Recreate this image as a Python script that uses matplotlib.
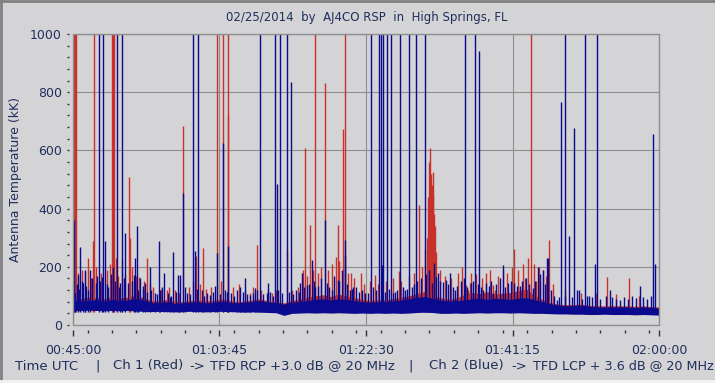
import numpy as np
import matplotlib
matplotlib.use("Agg")
import matplotlib.pyplot as plt
from matplotlib.ticker import FixedLocator, MultipleLocator, FuncFormatter
from matplotlib.patches import Rectangle
from matplotlib.lines import Line2D

# ---- data (time in minutes after 00:00 UTC, temperature in kK) ----
band_min = np.arange(45, 121)

blue_lo = [50, 50, 51, 50, 49, 50, 49, 50, 48, 47,
           46, 47, 46, 45, 46, 47, 46, 45, 46, 47,
           46, 45, 44, 45, 44, 43, 42, 33, 40, 41,
           42, 41, 42, 41, 42, 41, 40, 41, 40, 41,
           40, 41, 40, 41, 43, 44, 43, 40, 40, 41,
           40, 41, 42, 41, 42, 42, 41, 42, 41, 40,
           40, 39, 38, 38, 37, 37, 36, 36, 37, 36,
           36, 36, 35, 36, 35, 34]
blue_hi = [86, 82, 84, 88, 82, 88, 84, 86, 92, 86,
           78, 76, 80, 74, 76, 78, 80, 76, 78, 82,
           78, 76, 78, 80, 84, 78, 76, 72, 78, 80,
           84, 88, 90, 86, 90, 88, 84, 80, 78, 80,
           80, 82, 86, 90, 95, 98, 92, 86, 82, 84,
           86, 90, 92, 88, 92, 90, 88, 92, 94, 88,
           80, 74, 68, 66, 66, 68, 64, 62, 62, 62,
           62, 62, 60, 62, 60, 58]
red_hi = [94, 90, 96, 94, 90, 98, 92, 96, 102, 94,
          84, 82, 88, 80, 80, 84, 86, 82, 84, 90,
          84, 80, 82, 86, 90, 82, 80, 76, 84, 88,
          96, 100, 104, 98, 106, 100, 94, 88, 84, 86,
          86, 90, 96, 100, 108, 115, 104, 94, 88, 92,
          104, 112, 108, 115, 106, 110, 112, 118, 124, 104,
          88, 78, 72, 70, 70, 72, 68, 66, 66, 66,
          66, 66, 64, 66, 63, 62]

# large spikes: (minute, peak)
blue_t = [45.15, 45.26, 45.64, 45.94, 46.3, 46.5, 46.96, 47.18, 48.29, 48.67,
          48.88, 49.1, 49.5, 50.16, 50.67, 51.0, 51.31, 51.7, 52.85, 52.94,
          53.15, 53.36, 53.9, 54.2, 54.86, 55.5, 56.05, 56.1, 56.69, 57.4,
          57.84, 58.48, 58.7, 59.12, 59.3, 60.32, 60.6, 61.04, 61.5, 62.5,
          63.2, 63.4, 64.2, 64.7, 64.84, 65.95, 66.4, 67.0, 67.65, 68.3,
          68.89, 69.8, 69.9, 70.9, 71.15, 71.3, 71.53, 72.35, 72.94, 73.6,
          74.1, 74.3, 74.9, 75.6, 76.0, 77.21, 78.1, 78.96, 79.4, 79.8,
          79.85, 80.45, 80.9, 82.4, 83.14, 83.4, 84.13, 84.46, 84.6, 84.63,
          85.15, 85.74, 86.2, 86.89, 87.5, 88.04, 88.35, 88.94, 90.01, 90.9,
          91.2, 91.76, 92.4, 92.8, 93.25, 93.9, 95.21, 95.4, 96.41, 97.0,
          97.5, 98.8, 100.08, 101.4, 102.2, 103.9, 104.5, 105.2, 105.7, 105.8,
          106.9, 107.42, 107.93, 108.5, 109.17, 109.5, 109.7, 110.57, 111.0, 111.8,
          112.11, 113.7, 115.0, 117.1, 117.6, 119.28, 119.5]
blue_v = [361, 109, 172, 269, 143, 190, 120, 190, 1000, 166,
          1000, 290, 132, 200, 1000, 143, 1000, 317, 172, 229,
          340, 120, 133, 143, 200, 109, 290, 120, 178, 97,
          250, 172, 172, 455, 132, 1000, 255, 1000, 120, 103,
          133, 246, 624, 115, 270, 121, 132, 160, 103, 126,
          1000, 110, 143, 1000, 484, 120, 1000, 1000, 834, 120,
          143, 180, 137, 225, 132, 361, 120, 155, 189, 236,
          292, 120, 132, 109, 1000, 132, 1000, 1000, 205, 1000,
          1000, 1000, 114, 1000, 120, 1000, 132, 1000, 1000, 143,
          213, 178, 148, 155, 180, 120, 1000, 132, 1000, 943,
          120, 109, 205, 143, 133, 126, 200, 189, 230, 229,
          86, 767, 1000, 306, 676, 120, 120, 1000, 100, 209,
          1000, 121, 86, 92, 133, 656, 210]

red_t = [45.15, 45.28, 45.4, 46.5, 47.6, 47.73, 50.0, 50.13, 50.27, 51.3,
         52.17, 52.3, 54.5, 57.0, 58.6, 59.12, 60.74, 61.68, 63.47, 64.16,
         64.8, 64.88, 67.6, 68.59, 69.9, 72.35, 74.5, 74.65, 75.37, 76.01,
         77.21, 78.7, 78.92, 79.6, 79.85, 80.6, 81.9, 83.65, 86.77, 89.33,
         90.0, 90.3, 90.48, 90.62, 90.74, 90.85, 90.95, 91.05, 91.12, 91.2,
         91.33, 91.45, 95.3, 95.6, 95.8, 98.7, 99.0, 101.5, 101.9, 102.85,
         103.66, 104.3, 104.8, 105.96, 113.3, 116.1]
red_v = [1000, 1000, 1000, 183, 290, 1000, 1000, 1000, 1000, 228,
         510, 300, 231, 120, 110, 684, 236, 263, 1000, 1000,
         721, 1000, 110, 275, 120, 258, 189, 607, 344, 1000,
         830, 232, 344, 672, 1000, 178, 178, 172, 185, 412,
         260, 300, 440, 560, 607, 520, 480, 450, 527, 380,
         340, 250, 138, 120, 143, 138, 120, 260, 132, 160,
         1000, 150, 150, 292, 166, 160]

# small spikes riding on the noise floor
blue_small_t = [45.5, 45.8, 46.1, 46.7, 47.4, 47.9, 48.1, 48.5, 49.3, 49.8,
                50.4, 50.9, 51.5, 52.0, 52.5, 53.6, 54.0, 54.5, 55.0, 55.8,
                56.4, 57.1, 57.6, 58.2, 59.6, 60.0, 60.9, 61.8, 62.2, 62.9,
                63.8, 64.4, 65.2, 65.6, 66.8, 67.3, 68.0, 68.6, 69.3, 70.2,
                70.6, 71.8, 72.6, 73.2, 73.9, 74.6, 75.2, 75.9, 76.4, 76.7,
                77.5, 77.8, 78.4, 79.1, 80.1, 80.7, 81.2, 81.6, 82.0, 82.8,
                83.8, 84.9, 85.5, 86.0, 86.5, 87.2, 87.8, 88.6, 89.0, 89.6,
                90.2, 90.6, 91.5, 92.0, 93.0, 93.6, 94.2, 94.6, 95.0, 95.9,
                96.2, 96.8, 97.2, 97.8, 98.2, 98.5, 99.2, 99.6, 100.3, 100.7,
                101.0, 101.8, 102.5, 103.0, 103.4, 104.1, 104.8, 105.4, 106.2, 106.6,
                107.2, 108.0, 108.9, 110.2, 110.8, 111.4, 112.5, 113.2, 114.0, 114.5,
                115.5, 116.0, 116.6, 118.0, 118.5, 119.0]
blue_small_v = [140, 125, 150, 135, 160, 145, 170, 150, 140, 175,
                150, 130, 160, 145, 150, 160, 125, 115, 120, 105,
                130, 110, 100, 115, 110, 105, 125, 100, 110, 115,
                105, 120, 110, 100, 115, 105, 110, 120, 105, 115,
                100, 110, 115, 105, 115, 130, 140, 150, 135, 160,
                145, 130, 170, 150, 140, 125, 130, 115, 120, 110,
                120, 115, 125, 110, 120, 130, 125, 140, 150, 160,
                175, 190, 165, 150, 140, 130, 135, 150, 160, 145,
                150, 140, 130, 145, 135, 150, 140, 160, 130, 145,
                150, 135, 150, 160, 140, 150, 175, 140, 120, 100,
                95, 100, 95, 90, 100, 95, 90, 100, 95, 90,
                95, 90, 100, 95, 90, 100]

red_small_t = [45.7, 46.2, 46.9, 47.3, 48.0, 48.6, 49.4, 49.7, 50.5, 50.8,
               51.6, 52.6, 53.0, 53.5, 54.1, 54.8, 55.3, 56.3, 57.3, 58.0,
               59.8, 60.4, 61.2, 62.0, 62.7, 63.9, 65.5, 66.2, 67.0, 68.0,
               69.0, 70.5, 71.0, 73.0, 73.8, 75.0, 75.7, 76.3, 76.8, 77.6,
               78.2, 79.0, 80.2, 81.0, 82.2, 83.0, 84.0, 85.0, 86.0, 87.0,
               88.0, 88.7, 89.7, 92.0, 92.6, 93.4, 94.3, 94.8, 96.0, 96.6,
               97.4, 97.9, 98.4, 99.4, 100.0, 100.6, 101.2, 102.0, 102.6, 103.2,
               104.0, 104.6, 105.2, 105.6, 106.4, 108.0, 110.0, 112.0, 114.5, 117.5]
red_small_v = [180, 190, 230, 160, 200, 180, 190, 210, 230, 170,
               175, 200, 170, 165, 150, 140, 130, 125, 130, 120,
               130, 150, 140, 125, 130, 150, 130, 140, 120, 130,
               120, 110, 120, 120, 130, 170, 190, 180, 200, 190,
               210, 220, 180, 160, 140, 150, 140, 150, 160, 150,
               170, 180, 200, 190, 170, 160, 180, 200, 180, 175,
               160, 180, 190, 170, 190, 180, 200, 190, 210, 230,
               210, 200, 190, 170, 140, 120, 110, 110, 105, 100]

major_x = [45, 63.75, 82.5, 101.25, 120]

# ---- style ----
bg = "#d4d3d6"
txt = "#1f2f5c"
red = "#c8302c"
blue = "#0a0a8e"
gridc = "#8e8e8e"

fig = plt.figure(figsize=(7.15, 3.83), dpi=100, facecolor=bg)
ax = fig.add_axes([73 / 715, 1 - 325 / 383, 586 / 715, 291 / 383])
ax.set_facecolor(bg)

red_lo = [v + 5 for v in blue_lo]
ax.fill_between(band_min, red_lo, red_hi, color=red, lw=0, zorder=2)
ax.vlines(red_small_t, 50, red_small_v, color=red, lw=1.0, zorder=3)
ax.vlines(red_t, 45, red_v, color=red, lw=1.0, zorder=3)
ax.fill_between(band_min, blue_lo, blue_hi, color=blue, lw=0, zorder=4)
ax.vlines(blue_small_t, 50, blue_small_v, color=blue, lw=1.0, zorder=5)
ax.vlines(blue_t, 45, blue_v, color=blue, lw=1.0, zorder=5)

ax.set_xlim(45, 120)
ax.set_ylim(0, 1000)

for s in ax.spines.values():
    s.set_color("none")
ax.spines["left"].set_position(("outward", 2.9))
ax.spines["bottom"].set_position(("outward", 3.6))
ax.add_patch(Rectangle((0, 0), 1, 1, transform=ax.transAxes, fill=False,
                       ec=gridc, lw=1, zorder=6, clip_on=False))

ax.xaxis.set_major_locator(FixedLocator(major_x))
ax.xaxis.set_minor_locator(MultipleLocator(18.75 / 6))
ax.yaxis.set_major_locator(MultipleLocator(200))
ax.yaxis.set_minor_locator(MultipleLocator(40))


def hms(m, pos=None):
    s = int(round(m * 60))
    return "%02d:%02d:%02d" % (s // 3600, (s % 3600) // 60, s % 60)


ax.xaxis.set_major_formatter(FuncFormatter(hms))
ax.tick_params(axis="x", which="major", length=4.3, width=1, color="#333333",
               labelsize=9, labelcolor=txt, pad=6)
ax.tick_params(axis="x", which="minor", length=2.2, width=1, color="#333333")
ax.tick_params(axis="y", which="both", length=1.8, width=1, color="#333333",
               labelsize=9, labelcolor=txt, pad=3.2)

ax.grid(which="major", color=gridc, lw=0.8)
ax.set_axisbelow(True)

ax.set_ylabel("Antenna Temperature (kK)", fontsize=9, color=txt, labelpad=6)
fig.text(367 / 715, 1 - 17 / 383, "02/25/2014  by  AJ4CO RSP  in  High Springs, FL",
         ha="center", va="center", fontsize=8.5, color=txt)

# footer, placed piece by piece to follow the original spacing
yb = 1 - 366 / 383
fs = 9.5
pieces = [(15, "Time UTC", fs), (95, "|", fs),
          (113, "Ch 1 (Red)", fs), (189, "->", fs),
          (210, "TFD RCP +3.0 dB @ 20 MHz", fs), (408, "|", fs),
          (429, "Ch 2 (Blue)", fs), (511, "->", fs),
          (533, "TFD LCP + 3.6 dB @ 20 MHz", 9.2)]
for px, s, size in pieces:
    fig.text(px / 715, yb, s, ha="left", va="center", fontsize=size, color=txt)

# sunken window border
fig.add_artist(Line2D([0, 1], [0.997, 0.997], transform=fig.transFigure, color="#808080", lw=2))
fig.add_artist(Line2D([0.001, 0.001], [0, 1], transform=fig.transFigure, color="#808080", lw=2))
fig.add_artist(Line2D([0, 1], [0.004, 0.004], transform=fig.transFigure, color="#f4f4f4", lw=2))

fig.savefig("out.png", dpi=100, facecolor=bg)
